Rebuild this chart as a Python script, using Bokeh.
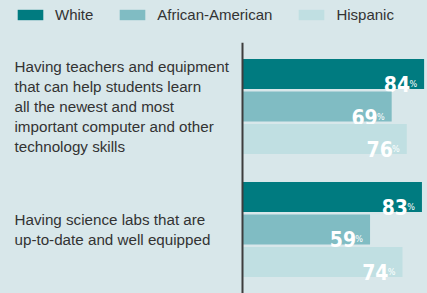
from bokeh.plotting import figure
from bokeh.layouts import column
from bokeh.models import (FactorRange, Range1d, ColumnDataSource, Span, Legend,
                          LegendItem, GlobalInlineStyleSheet)
from bokeh.core.properties import value
from bokeh.embed import file_html
from bokeh.resources import INLINE

# ---- data ----
categories = [
    "Having teachers and equipment\nthat can help students learn\nall the newest and most\nimportant computer and other\ntechnology skills",
    "Having science labs that are\nup-to-date and well equipped",
]
series = ["White", "African-American", "Hispanic"]
white = [84, 83]
african_american = [69, 59]
hispanic = [76, 74]

colors = ["#007b80", "#80bcc3", "#c0dfe2"]
BG = "#d8e7ea"
TXT = "#333333"

values = {"White": white, "African-American": african_american, "Hispanic": hispanic}

# factors listed bottom to top
factors = [(c, s) for c in reversed(categories) for s in reversed(series)]

W, H = 427, 293
LEG_H = 42
scale = 2.162
x0px = 242


def style(fig):
    fig.background_fill_color = BG
    fig.border_fill_color = BG
    fig.outline_line_color = None
    fig.xaxis.visible = False
    fig.yaxis.visible = False
    fig.xgrid.visible = False
    fig.ygrid.visible = False


# ---- legend strip ----
lf = figure(width=W, height=LEG_H, output_backend="svg", toolbar_location=None,
            x_range=Range1d(0, 1), y_range=Range1d(0, 1),
            min_border=0)
lf.stylesheets = [GlobalInlineStyleSheet(css=f"html,body{{margin:0;padding:0;background:{BG};overflow:hidden}}")]
style(lf)
leg_renderers = []
for s, col in zip(series, colors):
    # zero-width placeholder bar: only its legend swatch is shown
    leg_renderers.append(lf.hbar(y=[0.5], left=[0], right=[0], height=1,
                                 fill_color=col, line_color=None))
legend = Legend(items=[LegendItem(label=s, renderers=[r]) for s, r in zip(series, leg_renderers)],
                orientation="horizontal", location=(14, 19),
                glyph_width=32, glyph_height=13, label_standoff=9, spacing=23,
                label_text_font="Liberation Sans", label_text_font_size="15px",
                label_text_color=TXT, padding=0, margin=0,
                background_fill_alpha=0, border_line_color=None, label_height=13)
lf.add_layout(legend, "center")

# ---- main chart ----
p = figure(width=W, height=H - LEG_H, output_backend="svg", toolbar_location=None,
           x_range=Range1d(-x0px / scale, (W - x0px) / scale),
           y_range=FactorRange(*factors, factor_padding=0, group_padding=0.773,
                               range_padding=0.465, range_padding_units="absolute"),
           min_border=0)
style(p)

NUMFONT = value("DejaVu Sans Condensed")
for s, col in zip(series, colors):
    src = ColumnDataSource(dict(y=[(c, s) for c in categories], v=values[s],
                                num=[str(v) for v in values[s]],
                                pct=["%"] * len(categories)))
    p.hbar(y="y", left=0, right="v", height=0.92, source=src,
           fill_color=col, line_color=None)
    p.text(x="v", y="y", text="num", source=src, text_align="right",
           text_baseline="alphabetic", x_offset=-14, y_offset=10,
           text_color="white", text_font=NUMFONT,
           text_font_style="bold", text_font_size="21px")
    p.text(x="v", y="y", text="pct", source=src, text_align="right",
           text_baseline="alphabetic", x_offset=-7, y_offset=10,
           text_color="white", text_font=NUMFONT,
           text_font_size="9px")

# category labels
p.text(x=[p.x_range.start] * len(categories), y=categories, text=categories,
       x_offset=14, text_align="left", text_baseline="middle",
       text_font=value("Liberation Sans"), text_font_size="15.2px",
       text_color=TXT, text_line_height=1.19)

p.add_layout(Span(location=0, dimension="height", line_color="#3d3d3d", line_width=2))

layout = column(lf, p, spacing=0)
open("out.html", "w").write(file_html(layout, INLINE))
